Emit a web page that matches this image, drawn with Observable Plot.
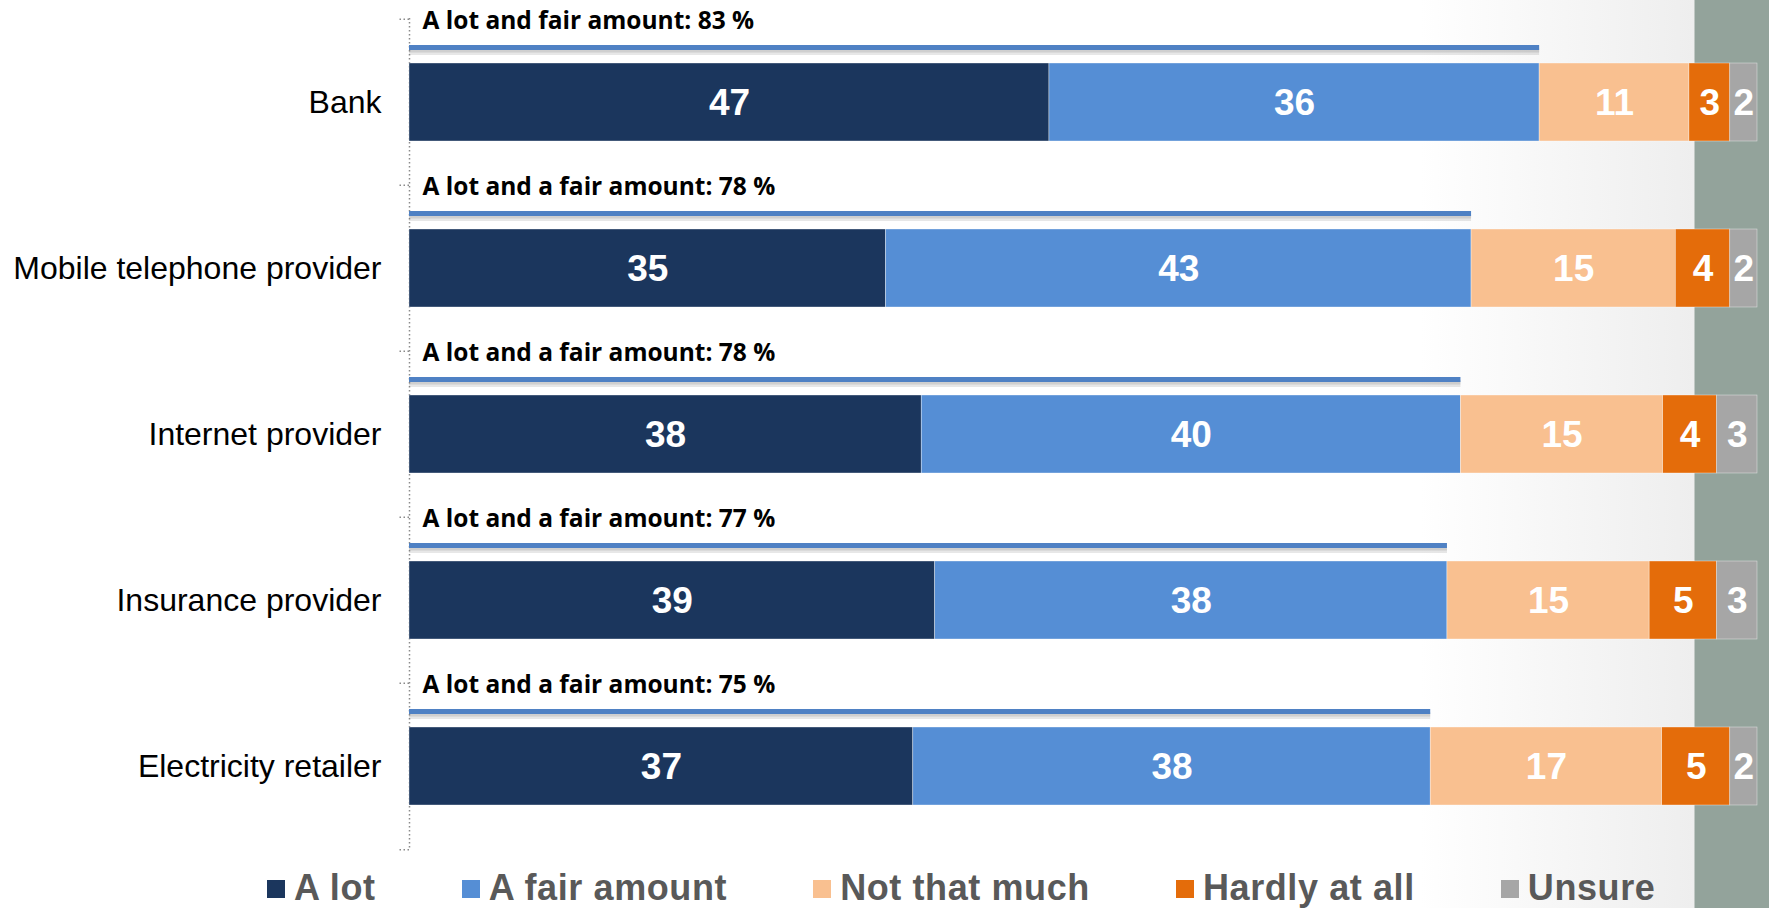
<!DOCTYPE html>
<html>
<head>
<meta charset="utf-8">
<script src="https://cdn.jsdelivr.net/npm/d3@7"></script>
<script src="https://cdn.jsdelivr.net/npm/@observablehq/plot@0.6"></script>
<style>
  html, body { margin: 0; padding: 0; }
  body {
    width: 1769px; height: 908px; overflow: hidden; position: relative;
    background: linear-gradient(to right, #ffffff 0px, #ffffff 1420px, #eeeeee 1694px, #93a39b 1695px, #93a39b 1769px);
    font-family: "Liberation Sans", Arial, sans-serif;
  }
  #chart { position: absolute; left: 0; top: 0; }
  #legend {
    position: absolute; left: 267px; top: 866px; height: 44px;
    display: flex; align-items: center; gap: 86px;
    font-family: "Liberation Sans", Arial, sans-serif; font-weight: bold;
    font-size: 36px; letter-spacing: 0.6px; color: #595959;
  }
  #legend .item { display: flex; align-items: center; gap: 9px; }
  #legend .sw { width: 18px; height: 18px; display: inline-block; margin-top: 1px; }
</style>
</head>
<body>
<div id="chart"></div>
<div id="legend"></div>
<script>
const categories = ["Bank", "Mobile telephone provider", "Internet provider", "Insurance provider", "Electricity retailer"];
const responses = ["A lot", "A fair amount", "Not that much", "Hardly at all", "Unsure"];
const colors = ["#1b365d", "#558ed5", "#f9c090", "#e46c0a", "#a6a6a6"];
const aLot       = [47, 35, 38, 39, 37];
const fairAmount = [36, 43, 40, 38, 38];
const notMuch    = [11, 15, 15, 15, 17];
const hardly     = [3, 4, 4, 5, 5];
const unsure     = [2, 2, 3, 3, 2];
const combinedLabels = [
  "A lot and fair amount: 83 %",
  "A lot and a fair amount: 78 %",
  "A lot and a fair amount: 78 %",
  "A lot and a fair amount: 77 %",
  "A lot and a fair amount: 75 %"
];

const series = [aLot, fairAmount, notMuch, hardly, unsure];
const rows = [];
categories.forEach((c, i) => {
  responses.forEach((r, j) => rows.push({category: c, response: r, value: series[j][i]}));
});
const combined = categories.map((c, i) => {
  const total = series.reduce((s, arr) => s + arr[i], 0);
  return {category: c, frac: (aLot[i] + fairAmount[i]) / total, label: combinedLabels[i]};
});

const font = "Liberation Sans, Arial, sans-serif";
const halfStep = 83.2;

const chart = Plot.plot({
  width: 1769,
  height: 851,
  marginLeft: 409,
  marginRight: 12,
  marginTop: 18,
  marginBottom: 1,
  style: {background: "transparent", fontFamily: font, overflow: "visible"},
  x: {domain: [0, 1], axis: null},
  y: {domain: categories, paddingInner: 0.531, paddingOuter: 0.2655, axis: null},
  color: {domain: responses, range: colors},
  marks: [
    Plot.ruleX([0], {stroke: "#8a8a8a", strokeWidth: 1.5, strokeDasharray: "1.5,2.5"}),
    // dotted category separators on the axis
    Plot.axisY({ticks: categories, tickSize: 11, tickFormat: () => "", label: null, dy: -halfStep, stroke: "#8a8a8a", strokeWidth: 1.5, strokeDasharray: "1.5,2.5"}),
    Plot.axisY({ticks: categories.slice(-1), tickSize: 11, tickFormat: () => "", label: null, dy: halfStep, stroke: "#8a8a8a", strokeWidth: 1.5, strokeDasharray: "1.5,2.5"}),
    Plot.barX(rows, Plot.stackX({
      x: "value", y: "category", z: "response", fill: "response", offset: "normalize",
      order: responses, stroke: "#ffffff", strokeWidth: 0.6, strokeOpacity: 0.6
    })),
    Plot.text(rows, Plot.stackX({
      x: "value", y: "category", z: "response", text: "value", offset: "normalize", order: responses,
      fill: "white", fontSize: 37, fontWeight: "bold", fontFamily: font, dy: 1
    })),
    // shadow under the combined line
    Plot.ruleY(combined, {y: "category", x1: 0, x2: "frac", stroke: "#7a7a7a", strokeOpacity: 0.18, strokeWidth: 7, dy: -51}),
    Plot.ruleY(combined, {y: "category", x1: 0, x2: "frac", stroke: "#7a7a7a", strokeOpacity: 0.22, strokeWidth: 4, dy: -52}),
    Plot.ruleY(combined, {y: "category", x1: 0, x2: "frac", stroke: "#4f81c4", strokeWidth: 5, dy: -55}),
    Plot.text(combined, {
      y: "category", x: 0, text: "label", textAnchor: "start", dx: 13, dy: -81,
      fontSize: 24.5, fontWeight: "bold", fontFamily: "Open Sans, Liberation Sans, sans-serif", fill: "#000"
    }),
    Plot.axisY({tickSize: 0, tickPadding: 28, fontSize: 32, fontFamily: font, fill: "#000", label: null})
  ]
});
document.getElementById("chart").appendChild(chart);

const legend = document.getElementById("legend");
responses.forEach((r, i) => {
  const item = document.createElement("div");
  item.className = "item";
  const sw = document.createElement("span");
  sw.className = "sw";
  sw.style.background = colors[i];
  const t = document.createElement("span");
  t.textContent = r;
  item.appendChild(sw);
  item.appendChild(t);
  legend.appendChild(item);
});
</script>
</body>
</html>
